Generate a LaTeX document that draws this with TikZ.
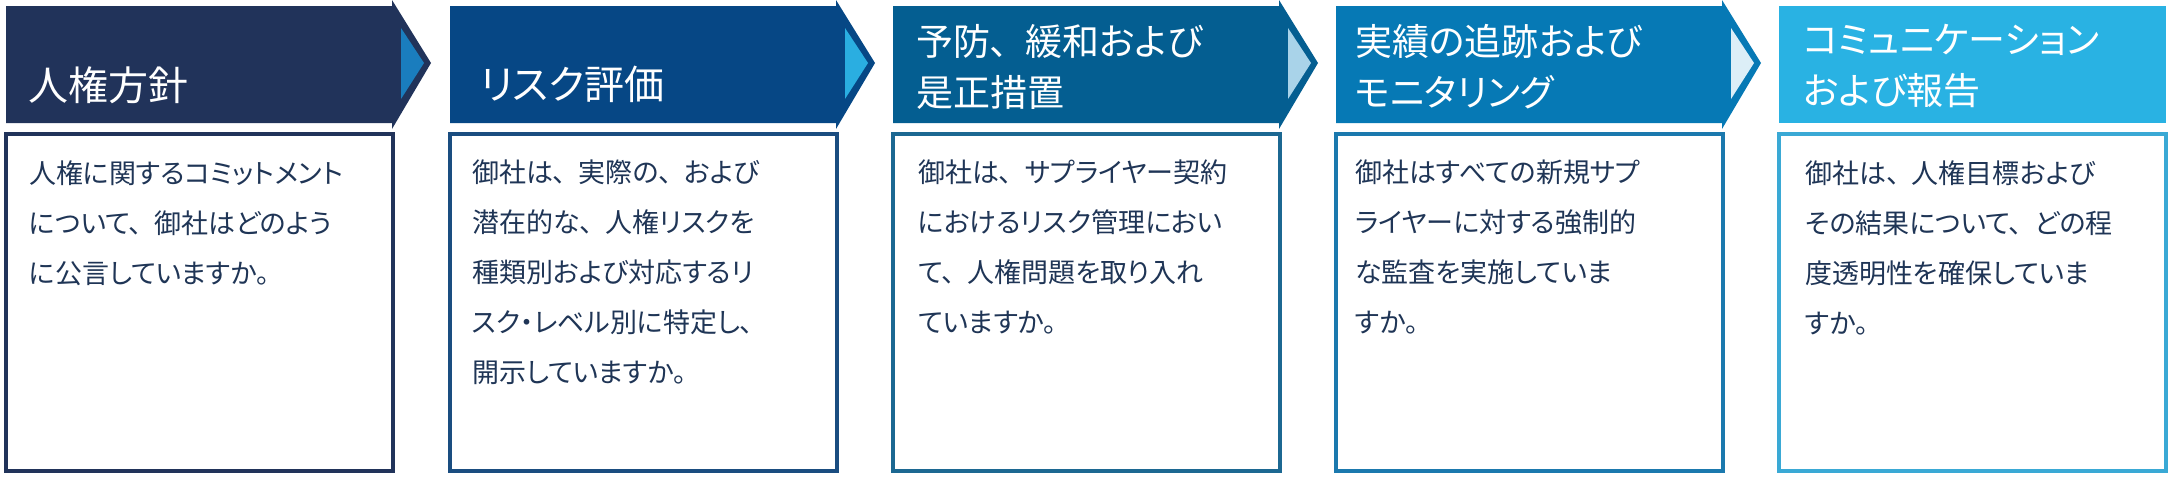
\documentclass[tikz,border=0pt]{standalone}
\usepackage{fontspec}
\setmainfont{Noto Sans CJK JP}[RawFeature=+palt]
\newcommand\jcm{、\kern0.45em}
\definecolor{hA}{HTML}{21335A}\definecolor{tA}{HTML}{1A7DBE}\definecolor{bA}{HTML}{21335A}
\definecolor{hB}{HTML}{064785}\definecolor{tB}{HTML}{2AAEE1}\definecolor{bB}{HTML}{1A4D80}
\definecolor{hC}{HTML}{045E91}\definecolor{tC}{HTML}{A9D3E9}\definecolor{bC}{HTML}{1C6892}
\definecolor{hD}{HTML}{0679B5}\definecolor{tD}{HTML}{DCEEF7}\definecolor{bD}{HTML}{1B79AE}
\definecolor{hE}{HTML}{29B2E3}\definecolor{bE}{HTML}{3AA9D5}
\definecolor{txt}{HTML}{1F3556}
\begin{document}
\begin{tikzpicture}[x=1pt,y=-1pt,
  hdrone/.style={white,anchor=north west,inner sep=0pt,align=left,font=\fontsize{40}{51}\selectfont},
  hdrtwo/.style={white,anchor=north west,inner sep=0pt,align=left,font=\fontsize{37}{51}\selectfont},
  bodytext/.style={txt,anchor=north west,inner sep=0pt,align=left,font=\fontsize{27}{50}\selectfont},
  boxframe/.style={line width=4pt,fill=white}]
\useasboundingbox[fill=white] (0,0) rectangle (2169,480);
% headers with chevrons
\foreach \L/\hc/\tc in {6/hA/tA, 450/hB/tB, 893/hC/tC, 1336/hD/tD}{
  \fill[\hc] (\L,6) -- (\L+386,6) -- (\L+386,0) -- (\L+425,63) -- (\L+386,129) -- (\L+386,123) -- (\L,123) -- cycle;
  \fill[\tc] (\L+395,28) -- (\L+418,63) -- (\L+395,99) -- cycle;
}
\fill[hE] (1779,6) rectangle (2166,123);
% boxes
\foreach \L/\bc in {6/bA, 450/bB, 893/bC, 1336/bD, 1779/bE}{
  \draw[boxframe,draw=\bc] (\L,134) rectangle (\L+387,470.5);
}
% header texts
\node[hdrone] (h1) at (28,66) {人権方針};
\node[hdrone] (h2) at (480,66) {リスク評価};
\node[hdrtwo] (h3) at (916,24) {予防\jcm 緩和および\\是正措置};
\node[hdrtwo] (h4) at (1355,24) {実績の追跡および\\モニタリング};
\node[hdrtwo] (h5) at (1803,24) {コミュニケーション\\および報告};
% body texts
\node[bodytext] (b1) at (29,160) {人権に関するコミットメント\\について\jcm 御社はどのよう\\に公言していますか。};
\node[bodytext] (b2) at (472,160) {御社は\jcm 実際の\jcm および\\潜在的な\jcm 人権リスクを\\種類別および対応するリ\\スク・レベル別に特定し\jcm\\開示していますか。};
\node[bodytext] (b3) at (918,160) {御社は\jcm サプライヤー契約\\におけるリスク管理におい\\て\jcm 人権問題を取り入れ\\ていますか。};
\node[bodytext] (b4) at (1355,160) {御社はすべての新規サプ\\ライヤーに対する強制的\\な監査を実施していま\\すか。};
\node[bodytext] (b5) at (1805,160) {御社は\jcm 人権目標および\\その結果について\jcm どの程\\度透明性を確保していま\\すか。};
\end{tikzpicture}
\end{document}
